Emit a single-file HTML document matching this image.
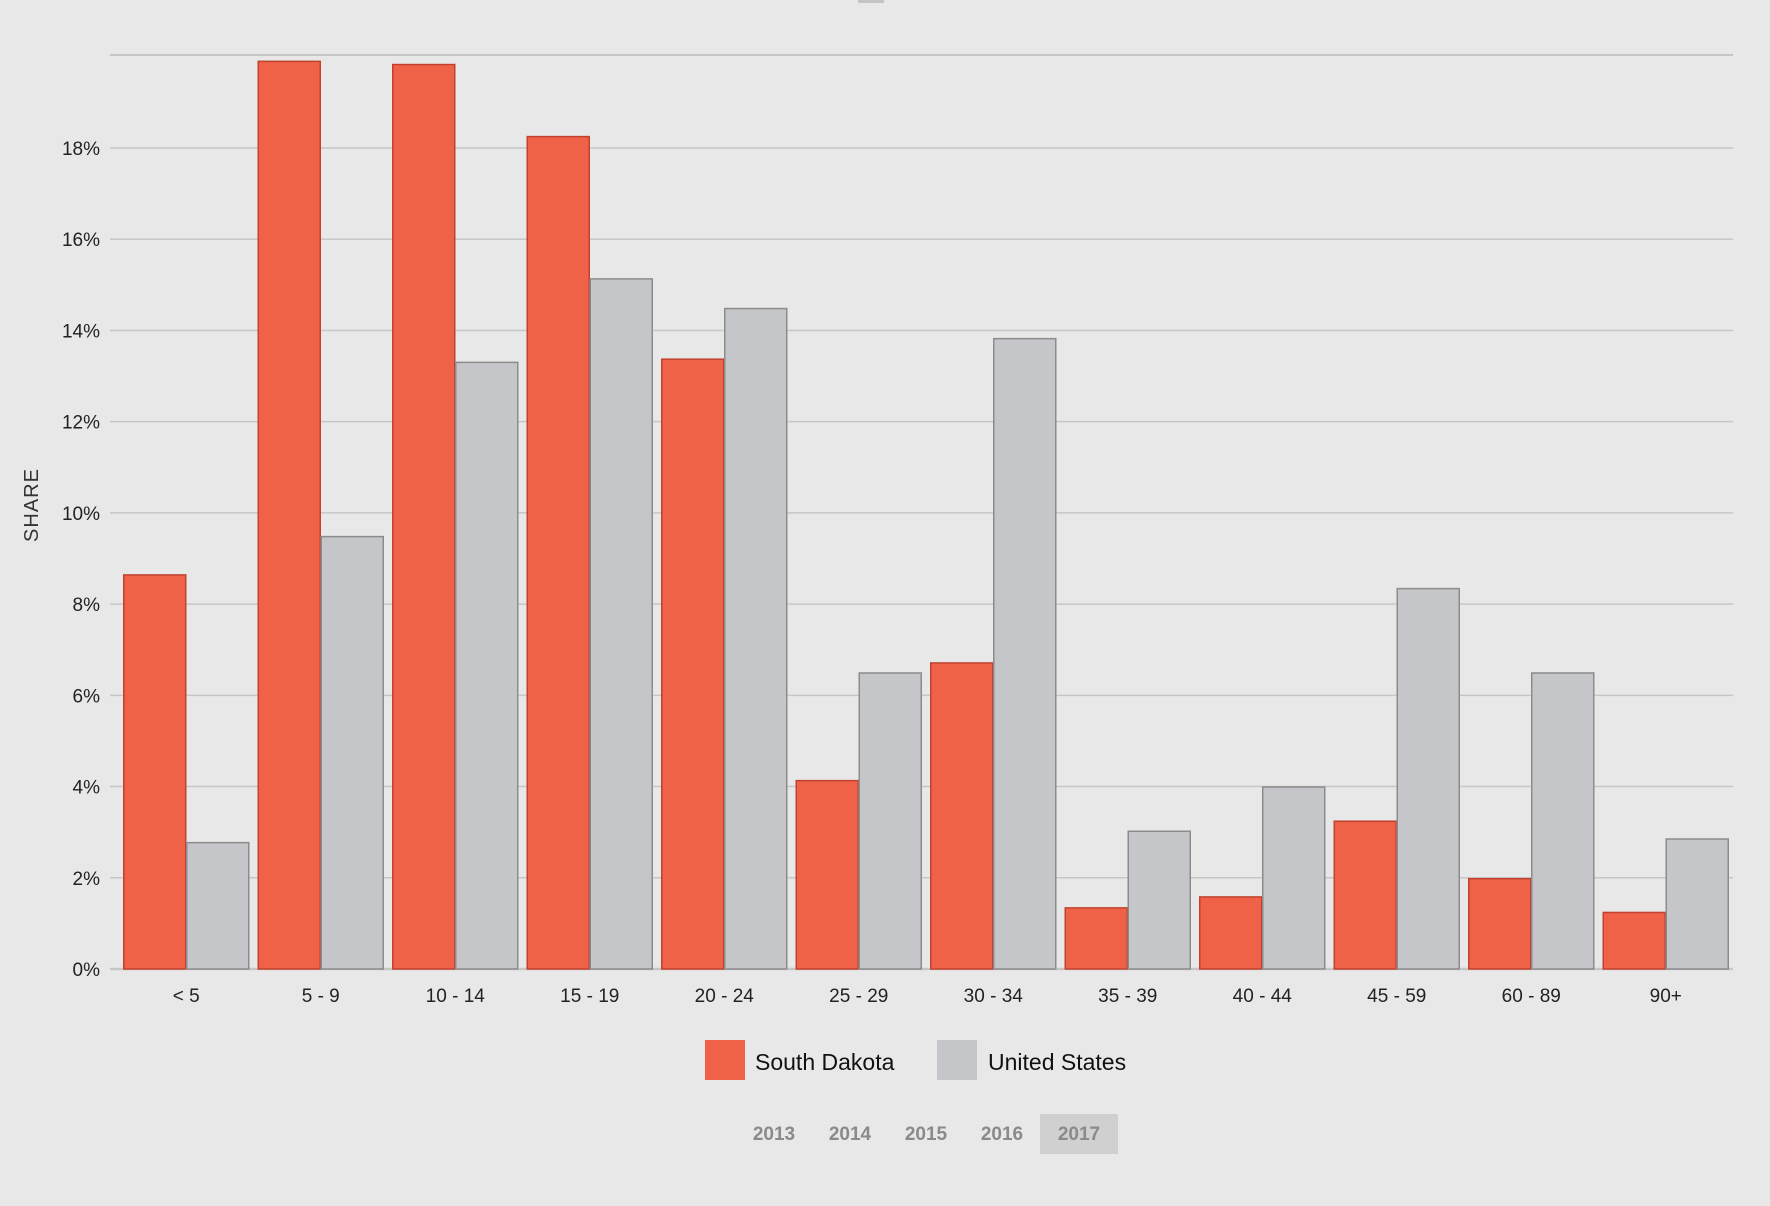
<!DOCTYPE html>
<html><head><meta charset="utf-8"><style>
html,body{margin:0;padding:0;background:#e8e8e8;}
svg{display:block;font-family:"Liberation Sans",sans-serif;}
</style></head><body>
<svg id="chart" width="1770" height="1206" viewBox="0 0 1770 1206">
<rect x="0" y="0" width="1770" height="1206" fill="#e8e8e8"/>
<rect x="858" y="0" width="26" height="3" fill="#c4c4c4"/>
<g id="grid"></g><g id="bars"></g><g id="xlabels"></g>
<text x="38" y="505" transform="rotate(-90 38 505)" text-anchor="middle" font-size="20" fill="#333" letter-spacing="1">SHARE</text>
<g>
<rect x="705" y="1040" width="40" height="40" fill="#ef6248"/>
<text x="755" y="1070" font-size="23" fill="#111">South Dakota</text>
<rect x="937" y="1040" width="40" height="40" fill="#c5c6c9"/>
<text x="988" y="1070" font-size="23" fill="#111">United States</text>
</g>
<g font-size="19" font-weight="bold" fill="#8a8a8a" text-anchor="middle">
<rect x="1040" y="1114" width="78" height="40" fill="#d0d0d0"/>
<text x="774" y="1140">2013</text>
<text x="850" y="1140">2014</text>
<text x="926" y="1140">2015</text>
<text x="1002" y="1140">2016</text>
<text x="1079" y="1140">2017</text>
</g>
</svg>
<script>
const categories = ["< 5","5 - 9","10 - 14","15 - 19","20 - 24","25 - 29","30 - 34","35 - 39","40 - 44","45 - 59","60 - 89","90+"];
const southDakota = [8.64,19.9,19.83,18.25,13.37,4.13,6.71,1.34,1.58,3.24,1.98,1.24];
const unitedStates = [2.77,9.48,13.3,15.13,14.48,6.49,13.82,3.02,3.99,8.34,6.49,2.85];
const yTicks = [0,2,4,6,8,10,12,14,16,18];
const yTickLabels = ["0%","2%","4%","6%","8%","10%","12%","14%","16%","18%"];
const NS="http://www.w3.org/2000/svg";
const y0=969, yPer=(969-148)/18;
function yScale(v){return y0-v*yPer;}
const bandStart=119, bandW=(1733-119)/12, barW=62;
function xScale(i){return bandStart+i*bandW;}
function mk(tag,attrs,parent){const e=document.createElementNS(NS,tag);for(const k in attrs)e.setAttribute(k,attrs[k]);parent.appendChild(e);return e;}
const gridG=document.getElementById('grid');
yTicks.forEach((t,i)=>{
  const l=mk('line',{x1:110,x2:1733,y1:yScale(t),y2:yScale(t),stroke:'#c6c6c6','stroke-width':t===0?2.5:1.5},gridG);
  
  
  const tx=mk('text',{x:100,y:yScale(t)+7,'text-anchor':'end','font-size':19,fill:'#222'},gridG);
  tx.textContent=yTickLabels[i];
  
  
});
const topLine=mk('line',{x1:110,x2:1733,y1:55,y2:55,stroke:'#c6c6c6','stroke-width':2},gridG);


const barsG=document.getElementById('bars'), xlG=document.getElementById('xlabels');
categories.forEach((c,i)=>{
  const cx=xScale(i)+bandW/2;
  const r=mk('rect',{x:cx-barW-0.5,y:yScale(southDakota[i]),width:barW,height:y0-yScale(southDakota[i]),fill:'#ef6248',stroke:'#c0422e','stroke-width':1.5},barsG);
  
  
  const g=mk('rect',{x:cx+0.5,y:yScale(unitedStates[i]),width:barW,height:y0-yScale(unitedStates[i]),fill:'#c5c6c9',stroke:'#8c8c8c','stroke-width':1.5},barsG);
  
  
  const t=mk('text',{x:cx,y:1002,'text-anchor':'middle','font-size':19,fill:'#222'},xlG);
  t.textContent=c;
  
  
});
</script>
</body></html>
